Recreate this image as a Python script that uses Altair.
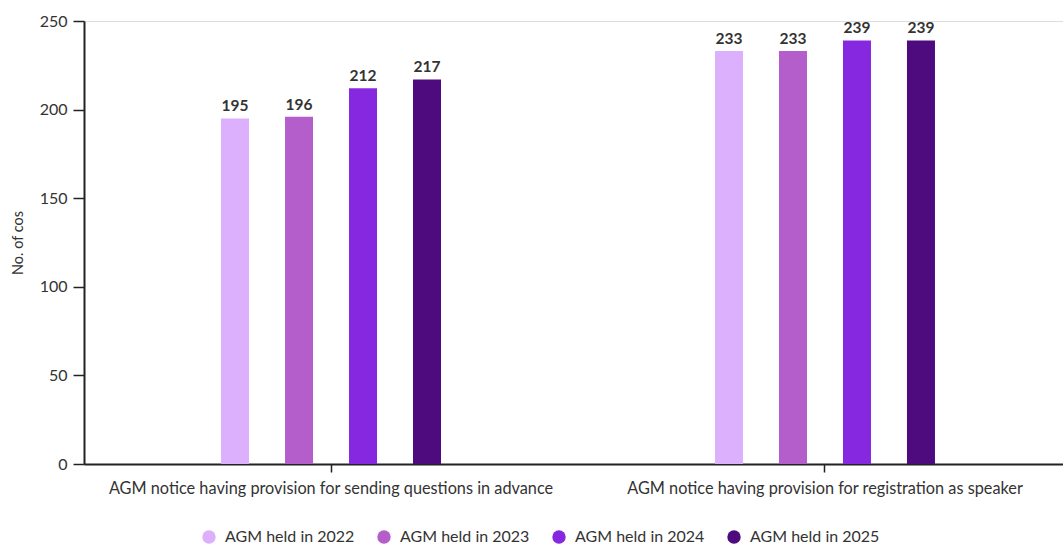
import altair as alt
import pandas as pd

categories = [
    "AGM notice having provision for sending questions in advance",
    "AGM notice having provision for registration as speaker",
]
years = ["AGM held in 2022", "AGM held in 2023", "AGM held in 2024", "AGM held in 2025"]
values_questions = [195, 196, 212, 217]
values_speaker = [233, 233, 239, 239]
colors = ["#dcb0fc", "#b35ecb", "#8628e0", "#4e0b7e"]

rows = []
for cat, vals in zip(categories, [values_questions, values_speaker]):
    for yr, v in zip(years, vals):
        rows.append({"category": cat, "year": yr, "value": v})
df = pd.DataFrame(rows)

FONT = "Lato"

x = alt.X(
    "category:N",
    sort=categories,
    title=None,
    scale=alt.Scale(paddingInner=0.5547, paddingOuter=0.2683, align=0.517),
    axis=alt.Axis(
        labelAngle=0,
        labelFontSize=16.3,
        labelColor="#333333",
        labelPadding=8,
        labelLimit=0,
        tickSize=8,
        tickColor="#222222",
        tickWidth=1.5,
        domainColor="#222222",
        domainWidth=2,
        grid=False,
    ),
)
xoff = alt.XOffset(
    "year:N",
    sort=years,
    scale=alt.Scale(paddingInner=0.5625, paddingOuter=0),
)
y = alt.Y(
    "value:Q",
    title="No. of cos",
    scale=alt.Scale(domain=[0, 250]),
    axis=alt.Axis(
        values=[0, 50, 100, 150, 200, 250],
        grid=False,
        labelFontSize=16,
        labelColor="#333333",
        tickSize=11,
        tickColor="#222222",
        tickWidth=1.5,
        domainColor="#222222",
        domainWidth=2,
        labelPadding=6,
        titleFontSize=14.5,
        titleFontWeight="normal",
        titleColor="#333333",
        titlePadding=14,
    ),
)
color = alt.Color(
    "year:N",
    sort=years,
    scale=alt.Scale(domain=years, range=colors),
    legend=alt.Legend(
        title=None,
        orient="none",
        direction="horizontal",
        legendX=117,
        legendY=508,
        symbolType="circle",
        symbolSize=180,
        symbolStrokeWidth=0,
        labelFontSize=16,
        labelColor="#333333",
        labelOffset=8,
        columnPadding=21,
    ),
)

bars = alt.Chart(df).mark_bar().encode(x=x, xOffset=xoff, y=y, color=color)
labels = alt.Chart(df).mark_text(
    dy=-12, fontSize=15.5, fontWeight="bold", color="#333333"
).encode(x=x, xOffset=xoff, y=y, text="value:Q")

chart = (
    alt.layer(bars, labels)
    .properties(
        width=979,
        height=443,
        autosize=alt.AutoSizeParams(type="none"),
        padding={"left": 84, "top": 21, "right": 0, "bottom": 82},
    )
    .configure_view(stroke="transparent")
    .configure_axis(grid=False)
    .configure(font=FONT)
)

chart.save("out.html", embed_options={"renderer": "svg", "actions": False})
